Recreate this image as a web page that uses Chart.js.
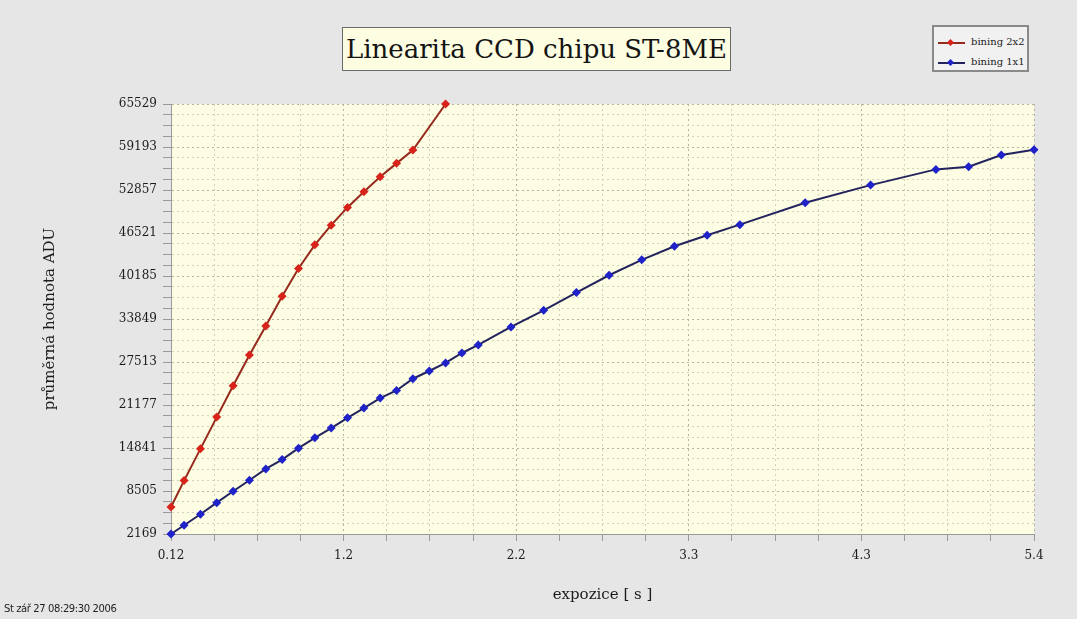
<!DOCTYPE html>
<html>
<head>
<meta charset="utf-8">
<script src="https://cdn.jsdelivr.net/npm/chart.js@4/dist/chart.umd.min.js"></script>
<style>
  body { margin: 0; background: #e6e6e6; }
  #wrap { position: relative; width: 1077px; height: 619px; overflow: hidden; }
  #myChart { position: absolute; left: 0; top: 0; }
  #title {
    position: absolute; left: 342px; top: 27px; width: 387px; height: 42px;
    border: 1px solid #6a6a6a; background: #fdfde2;
    font: 26px "DejaVu Serif", serif; color: #141414;
    text-align: center; line-height: 42px; white-space: nowrap;
  }
  #legend {
    position: absolute; left: 932px; top: 25px; width: 93px; height: 43px;
    border: 2px solid #8a8a8a; background: #f1f1f1;
    font: 10px "DejaVu Serif", serif; color: #222;
  }
  .row { position: absolute; left: 4px; height: 12px; }
  .row .ln { position: absolute; left: 0; top: 5px; width: 27px; height: 2px; }
  .row .pt { position: absolute; left: 10px; top: 3px; width: 5px; height: 5px; transform: rotate(45deg); }
  .row .tx { position: absolute; left: 33px; top: -1px; white-space: nowrap; }
  #stamp {
    position: absolute; left: 4px; top: 603px;
    font: 10px "DejaVu Sans", sans-serif; color: #222; letter-spacing: -0.4px;
  }
</style>
</head>
<body>
<div id="wrap">
  <canvas id="myChart" width="1077" height="619"></canvas>
  <div id="title">Linearita CCD chipu ST-8ME</div>
  <div id="legend"></div>
  <div id="stamp">St zář 27 08:29:30 2006</div>
</div>
<script>
// exposure [s] and mean ADU
const expo2x2 = [0.12, 0.2, 0.3, 0.4, 0.5, 0.6, 0.7, 0.8, 0.9, 1.0, 1.1, 1.2, 1.3, 1.4, 1.5, 1.6, 1.8];
const adu2x2 = [6154, 10036, 14715, 19394, 24014, 28545, 32826, 37194, 41283, 44781, 47674, 50287, 52604, 54818, 56781, 58744, 65529];

const expo1x1 = [0.12, 0.2, 0.3, 0.4, 0.5, 0.6, 0.7, 0.8, 0.9, 1.0, 1.1, 1.2, 1.3, 1.4, 1.5, 1.6, 1.7, 1.8, 1.9, 2.0,
                 2.2, 2.4, 2.6, 2.8, 3.0, 3.2, 3.4, 3.6, 4.0, 4.4, 4.8, 5.0, 5.2, 5.4];
const adu1x1 = [2169, 3453, 5077, 6789, 8472, 10095, 11763, 13136, 14818, 16339, 17770, 19291, 20722, 22198, 23320, 25047, 26184, 27379, 28840, 30021,
                32678, 35128, 37741, 40294, 42567, 44574, 46198, 47748, 50980, 53578, 55895, 56294, 58006, 58803];

const xTickLabels = ['0.12', '1.2', '2.2', '3.3', '4.3', '5.4'];
const yTickLabels = ['2169', '8505', '14841', '21177', '27513', '33849', '40185', '46521', '52857', '59193', '65529'];

const MINOR = 4; // minor divisions per major step

const xMin = Number(xTickLabels[0]), xMax = Number(xTickLabels[xTickLabels.length - 1]);
const yMin = Number(yTickLabels[0]), yMax = Number(yTickLabels[yTickLabels.length - 1]);

function makeTicks(min, max, nMajor) {
    const n = (nMajor - 1) * MINOR;
    const out = [];
    for (let i = 0; i <= n; i++) out.push({ value: min + (max - min) * i / n });
    return out;
}

const datasets = [
    {
        label: 'bining 2x2',
        data: expo2x2.map((x, i) => ({ x: x, y: adu2x2[i] })),
        borderColor: '#962a1c',
        pointBackgroundColor: '#d8231b',
        markColor: '#d8231b'
    },
    {
        label: 'bining 1x1',
        data: expo1x1.map((x, i) => ({ x: x, y: adu1x1[i] })),
        borderColor: '#23235e',
        pointBackgroundColor: '#1f22c8',
        markColor: '#1f22c8'
    }
].map(d => Object.assign(d, {
    borderWidth: 2,
    tension: 0,
    pointStyle: 'rectRot',
    pointRadius: 4.5,
    pointBorderWidth: 0,
    pointBorderColor: d.pointBackgroundColor,
    clip: false
}));

// legend box
const legend = document.getElementById('legend');
datasets.forEach((d, i) => {
    const row = document.createElement('div');
    row.className = 'row';
    row.style.top = (10 + i * 20) + 'px';
    row.innerHTML = `
        <span class="ln" style="background:${d.borderColor}"></span>
        <span class="pt" style="background:${d.markColor}"></span>
        <span class="tx">${d.label}</span>
    `;
    legend.appendChild(row);
});

const plotBg = {
    id: 'plotBg',
    beforeDraw(chart) {
        const a = chart.chartArea;
        const c = chart.ctx;
        c.save();
        c.fillStyle = '#fcfde3';
        c.fillRect(a.left, a.top, a.right - a.left, a.bottom - a.top);
        c.restore();
    }
};

const gridColor = ctx => (ctx.index % MINOR === 0 ? '#b4b4a0' : '#d2d2bf');
const tickFont = { family: 'DejaVu Serif', size: 12 };
const titleFont = { family: 'DejaVu Serif', size: 15, lineHeight: 1.2 };

new Chart(document.getElementById('myChart'), {
    type: 'line',
    data: { datasets: datasets },
    plugins: [plotBg],
    options: {
        responsive: false,
        animation: false,
        layout: { padding: { top: 104, right: 43, left: 0, bottom: 0 } },
        plugins: {
            legend: { display: false },
            tooltip: { enabled: false }
        },
        scales: {
            x: {
                type: 'linear',
                min: xMin,
                max: xMax,
                afterBuildTicks: s => { s.ticks = makeTicks(xMin, xMax, xTickLabels.length); },
                afterFit: s => { s.height = 85; },
                ticks: {
                    autoSkip: false,
                    maxRotation: 0,
                    padding: 8,
                    color: '#1c1c1c',
                    font: tickFont,
                    callback: (v, i) => (i % MINOR === 0 ? xTickLabels[i / MINOR] : '')
                },
                grid: { color: gridColor, tickColor: '#999', tickLength: 7, lineWidth: 1 },
                border: { color: '#9a9a9a', dash: [2, 3] },
                title: {
                    display: true,
                    text: 'expozice [ s ]',
                    color: '#1c1c1c',
                    font: titleFont,
                    padding: { top: 0, bottom: 15 }
                }
            },
            y: {
                type: 'linear',
                min: yMin,
                max: yMax,
                afterBuildTicks: s => { s.ticks = makeTicks(yMin, yMax, yTickLabels.length); },
                afterFit: s => { s.width = 171; },
                ticks: {
                    autoSkip: false,
                    padding: 6,
                    color: '#1c1c1c',
                    font: tickFont,
                    callback: (v, i) => (i % MINOR === 0 ? yTickLabels[i / MINOR] : '')
                },
                grid: { color: gridColor, tickColor: '#999', tickLength: 8, lineWidth: 1 },
                border: { color: '#9a9a9a', dash: [2, 3] },
                title: {
                    display: true,
                    text: 'průměrná hodnota ADU',
                    color: '#1c1c1c',
                    font: titleFont,
                    padding: { top: 41, bottom: 0 }
                }
            }
        }
    }
});
</script>
</body>
</html>
